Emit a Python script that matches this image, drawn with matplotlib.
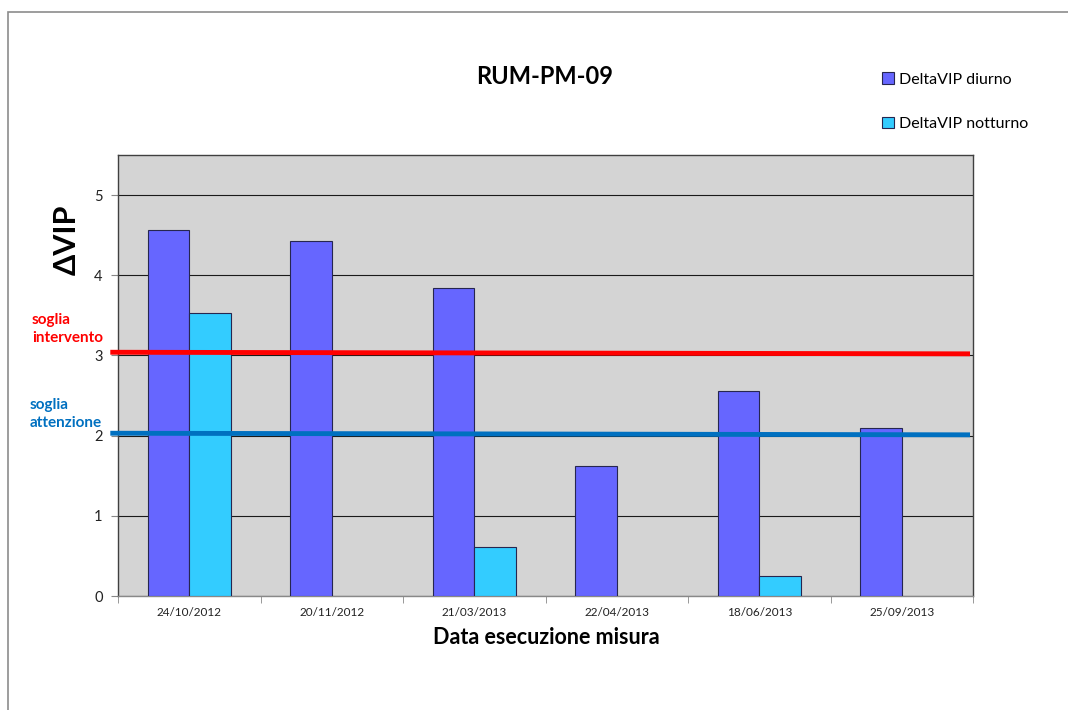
import numpy as np
import matplotlib
matplotlib.use('Agg')
import matplotlib.pyplot as plt
import matplotlib.patches as mpatches
import matplotlib.transforms as mtransforms

plt.rcParams['font.family'] = ['Lato', 'DejaVu Sans']

dates = ['24/10/2012', '20/11/2012', '21/03/2013', '22/04/2013',
         '18/06/2013', '25/09/2013']
diurno = [4.56, 4.43, 3.84, 1.62, 2.56, 2.10]
notturno = [3.53, np.nan, 0.61, np.nan, 0.25, np.nan]
soglia_intervento = 3.03
soglia_attenzione = 2.02

fig = plt.figure(figsize=(10.68, 7.10), dpi=100)
ax = fig.add_axes([118 / 1068, 1 - 596 / 710, 855 / 1068, 441 / 710])
ax.set_facecolor('#d4d4d4')

x = np.arange(len(dates))
w = 0.29
ax.bar(x - w / 2, diurno, w, color='#6666ff', edgecolor='#262650',
       linewidth=0.8, label='DeltaVIP diurno', zorder=3)
ax.bar(x + w / 2, notturno, w, color='#33ccff', edgecolor='#262650',
       linewidth=0.8, label='DeltaVIP notturno', zorder=3)

ax.set_xlim(-0.5, len(dates) - 0.5)
ax.set_ylim(0, 5.5)
ax.set_yticks([0, 1, 2, 3, 4, 5])
ax.yaxis.grid(True, color='#1a1a1a', linewidth=0.8, zorder=0)
ax.set_axisbelow(True)
ax.set_xticks(x)
ax.set_xticklabels(dates, fontsize=8.5, color='#222222')
ax.set_xticks(np.arange(len(dates) + 1) - 0.5, minor=True)
ax.tick_params(axis='x', which='major', length=0, pad=8)
ax.tick_params(axis='x', which='minor', length=5, color='#888888')
ax.tick_params(axis='y', length=5, color='#888888', labelsize=10.5,
               labelcolor='#222222', pad=6)
for s in ax.spines.values():
    s.set_color('#404040')
    s.set_linewidth(1)
ax.spines['bottom'].set_color('#888888')

# threshold lines, drawn slightly beyond the left edge
trans = mtransforms.blended_transform_factory(ax.transAxes, ax.transData)
ax.plot([-0.009, 0.9965], [soglia_intervento + 0.01, soglia_intervento - 0.01],
        color='#ff0000', lw=3.5, transform=trans, clip_on=False, zorder=4,
        solid_capstyle='butt')
ax.plot([-0.009, 0.9965], [soglia_attenzione + 0.01, soglia_attenzione - 0.01],
        color='#0070c0', lw=3.5, transform=trans, clip_on=False, zorder=4,
        solid_capstyle='butt')

fig.text(32 / 1068, 1 - 329 / 710, 'soglia\nintervento', color='#ff0000',
         fontsize=11, fontweight='bold', va='center', ha='left',
         linespacing=1.45)
fig.text(30 / 1068, 1 - 414 / 710, 'soglia\nattenzione', color='#0070c0',
         fontsize=11, fontweight='bold', va='center', ha='left',
         linespacing=1.45)

fig.text(545 / 1068, 1 - 76 / 710, 'RUM-PM-09', fontsize=17,
         fontweight='bold', ha='center', va='center')
fig.text(67 / 1068, 1 - 240 / 710, '\u0394VIP', fontsize=22,
         fontweight='bold', rotation=90, ha='center', va='center')
fig.text(546 / 1068, 1 - 637 / 710, 'Data esecuzione misura', fontsize=15.5,
         fontweight='bold', ha='center', va='center')

fig.legend(loc='upper left', bbox_to_anchor=(868 / 1068, 1 - 58 / 710),
           frameon=False, fontsize=11.5, handlelength=0.7,
           handleheight=0.7, handletextpad=0.35, labelspacing=1.9)

fig.patches.append(mpatches.Rectangle((8 / 1068, -0.1), 1.2, 1 - 12 / 710 + 0.1,
                                      transform=fig.transFigure,
                                      fill=False, edgecolor='#8c8c8c',
                                      linewidth=1.2))

fig.savefig('out.png', dpi=100)
